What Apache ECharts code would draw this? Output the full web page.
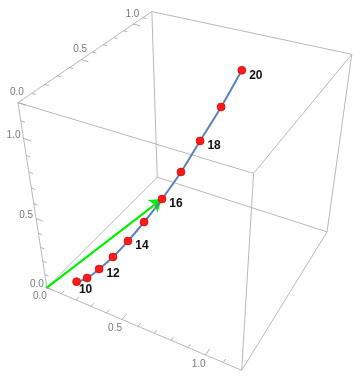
<!DOCTYPE html>
<html><head><meta charset="utf-8">
<script src="https://cdn.jsdelivr.net/npm/echarts@6/dist/echarts.min.js"></script>
<style>html,body{margin:0;padding:0;background:#fff}#c{width:360px;height:379px}</style>
</head><body><div id="c"></div>
<script>
// ---- data ----
const steps  = [10, 11, 12, 13, 14, 15, 16, 17, 18, 19, 20];
const xData  = [0.118, 0.161, 0.212, 0.271, 0.335, 0.403, 0.477, 0.553, 0.627, 0.705, 0.778];
const yData  = [0.118, 0.161, 0.212, 0.271, 0.335, 0.403, 0.477, 0.553, 0.627, 0.705, 0.778];
const zData  = [0.000, 0.012, 0.062, 0.132, 0.228, 0.343, 0.480, 0.639, 0.818, 1.005, 1.200];
const labeledSteps = [10, 12, 14, 16, 18, 20];
const arrowStep = 16;
const axisMin = 0, axisMax = 1.2;
const majorTicks = [0, 0.5, 1.0];
const majorTickLabels = ['0.0', '0.5', '1.0'];
const minorTicks = [0.1, 0.2, 0.3, 0.4, 0.6, 0.7, 0.8, 0.9, 1.1];

// ---- view: screen positions of the 8 box corners (layout) ----
const S = axisMax;
const corners3 = [[0,0,0],[S,0,0],[0,S,0],[S,S,0],[0,0,S],[S,0,S],[0,S,S],[S,S,S]];
const corners2 = [[47,288],[242,370],[157,177],[327,232],[18,102],[253,174],[152,12],[352,54]];
function solve(A,b){const n=b.length;A=A.map((r,i)=>r.concat([b[i]]));for(let i=0;i<n;i++){let m=i;for(let k=i+1;k<n;k++)if(Math.abs(A[k][i])>Math.abs(A[m][i]))m=k;[A[i],A[m]]=[A[m],A[i]];for(let k=i+1;k<n;k++){const f=A[k][i]/A[i][i];for(let j=i;j<=n;j++)A[k][j]-=f*A[i][j];}}const x=new Array(n).fill(0);for(let i=n-1;i>=0;i--){let s=A[i][n];for(let j=i+1;j<n;j++)s-=A[i][j]*x[j];x[i]=s/A[i][i];}return x;}
const rows=[],rhs=[];
corners3.forEach((c,i)=>{const [X,Y,Z]=c,[u,v]=corners2[i];
  rows.push([X,Y,Z,1,0,0,0,0,-u*X,-u*Y,-u*Z]);rhs.push(u);
  rows.push([0,0,0,0,X,Y,Z,1,-v*X,-v*Y,-v*Z]);rhs.push(v);});
const N=[],bb=[];
for(let i=0;i<11;i++){N.push(new Array(11).fill(0));bb.push(0);
  for(let j=0;j<11;j++)for(let k=0;k<rows.length;k++)N[i][j]+=rows[k][i]*rows[k][j];
  for(let k=0;k<rows.length;k++)bb[i]+=rows[k][i]*rhs[k];}
const P=solve(N,bb);
function proj(x,y,z){const w=P[8]*x+P[9]*y+P[10]*z+1;return [(P[0]*x+P[1]*y+P[2]*z+P[3])/w,(P[4]*x+P[5]*y+P[6]*z+P[7])/w];}

// ---- box edges ----
const edgePairs=[[0,1],[0,2],[1,3],[2,3],[4,5],[4,6],[5,7],[6,7],[0,4],[1,5],[2,6],[3,7]];
const boxEdges=edgePairs.map(([a,b])=>({coords:[proj(...corners3[a]),proj(...corners3[b])]}));

// ---- ticks ----
const tickSegs=[];
function addTicks(fn){
  majorTicks.forEach(t=>{const [p,q]=fn(t,0.045);tickSegs.push({coords:[proj(...p),proj(...q)]});});
  minorTicks.forEach(t=>{const [p,q]=fn(t,0.025);tickSegs.push({coords:[proj(...p),proj(...q)]});});
}
addTicks((t,l)=>[[t,0,0],[t,l,0]]);      // x axis, front bottom edge
addTicks((t,l)=>[[0,0,t],[l,0,t]]);      // z axis, front left edge
addTicks((t,l)=>[[0,t,S],[l,t,S]]);      // y axis, top left edge
const tickLabelData=[];
majorTicks.forEach((t,i)=>{
  const a=proj(t,0,0);tickLabelData.push({name:majorTickLabels[i],value:[a[0]-7,a[1]+9]});
  const b=proj(0,0,t);tickLabelData.push({name:majorTickLabels[i],value:[b[0]-10,b[1]-3]});
  const c=proj(0,t,S);tickLabelData.push({name:majorTickLabels[i],value:[c[0]-1,c[1]-10]});
});

// ---- curve & points ----
const pts=steps.map((s,i)=>proj(xData[i],yData[i],zData[i]));
const pointData=steps.map((s,i)=>({
  name:String(s), value:pts[i],
  label:{show:labeledSteps.includes(s), offset: s===10?[-5,8]:[0,5]}
}));
const ai=steps.indexOf(arrowStep);
const arrow=[{coords:[proj(0,0,0),proj(xData[ai],yData[ai],zData[ai])]}];

const chart=echarts.init(document.getElementById('c'));
chart.setOption({
  animation:false,
  grid:{left:0,right:0,top:0,bottom:0},
  xAxis:{type:'value',min:0,max:360,show:false},
  yAxis:{type:'value',min:0,max:379,inverse:true,show:false},
  series:[
    {type:'lines',coordinateSystem:'cartesian2d',data:boxEdges,silent:true,z:1,
     lineStyle:{color:'#b8b8b8',width:1,opacity:1}},
    {type:'lines',coordinateSystem:'cartesian2d',data:tickSegs,silent:true,z:1,
     lineStyle:{color:'#a0a0a0',width:0.8,opacity:1}},
    {type:'scatter',data:tickLabelData,symbolSize:0,silent:true,z:1,
     label:{show:true,position:'inside',formatter:'{b}',color:'#555',fontSize:10,
            fontFamily:'Liberation Sans, Arial, sans-serif'}},
    {type:'lines',coordinateSystem:'cartesian2d',data:arrow,silent:true,z:2,
     symbol:['none','arrow'],symbolSize:[0,12],
     lineStyle:{color:'#00f000',width:2.2,opacity:1,cap:'round'}},
    {type:'line',data:pts,smooth:0.35,showSymbol:false,silent:true,z:3,
     lineStyle:{color:'#5e81b5',width:2}},
    {type:'scatter',data:pointData,symbolSize:8,silent:true,z:5,
     itemStyle:{color:'#ff1a1a',borderColor:'#c00000',borderWidth:0.6,opacity:1},
     label:{position:'right',distance:3,formatter:'{b}',color:'#111',fontSize:12,fontWeight:'bold',
            fontFamily:'Liberation Sans, Arial, sans-serif'}}
  ]
});
</script></body></html>
